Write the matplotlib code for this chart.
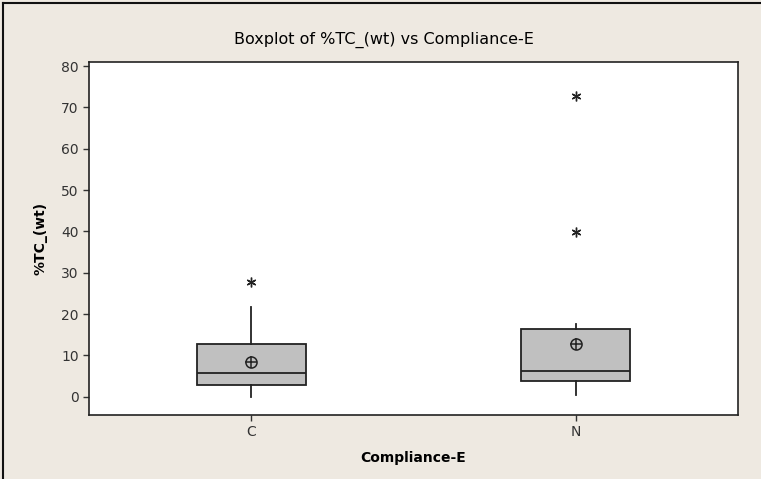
import matplotlib
matplotlib.use("Agg")
import matplotlib.pyplot as plt
from matplotlib.lines import Line2D

categories = ["C", "N"]
q1 = [2.9, 3.9]
median = [5.8, 6.3]
q3 = [12.8, 16.4]
whislo = [0.0, 0.5]
whishi = [21.7, 17.6]
means = [8.5, 12.8]
outliers = [[27.8], [39.9, 72.7]]
yticks = [0, 10, 20, 30, 40, 50, 60, 70, 80]

bg = "#EEE9E1"
fig = plt.figure(figsize=(7.61, 4.79), dpi=100, facecolor=bg)
ax = fig.add_axes([89/761, 1-415/479, (738-89)/761, (415-62)/479])
ax.set_facecolor("white")

stats = []
for i, c in enumerate(categories):
    stats.append(dict(label=c, q1=q1[i], med=median[i], q3=q3[i],
                      whislo=whislo[i], whishi=whishi[i], fliers=[]))
ax.bxp(stats, positions=[1, 2], widths=0.335, patch_artist=True, showcaps=False,
       boxprops=dict(facecolor="#C0C0C0", edgecolor="#222222", linewidth=1.3),
       medianprops=dict(color="#222222", linewidth=1.3),
       whiskerprops=dict(color="#222222", linewidth=1.3))

for i in range(len(categories)):
    x = i + 1
    ax.plot([x], [means[i]], marker="o", markersize=8, markerfacecolor="none",
            markeredgecolor="#222222", markeredgewidth=1.1, linestyle="none")
    ax.plot([x], [means[i]], marker="+", markersize=8, color="#222222",
            markeredgewidth=1.1, linestyle="none")
    ax.plot([x] * len(outliers[i]), outliers[i], marker=(6, 2, 0), markersize=7,
            color="#222222", markeredgewidth=1.0, linestyle="none")

ax.set_xlim(0.5, 2.5)
ax.set_ylim(-4.4, 81)
ax.set_yticks(yticks)
ax.set_xticks([1, 2])
ax.set_xticklabels(categories)
ax.tick_params(axis="both", direction="out", length=4, width=1, colors="#333333",
               labelsize=10)
for s in ax.spines.values():
    s.set_linewidth(1.2)
    s.set_color("#222222")

ax.set_xlabel("Compliance-E", fontsize=10, fontweight="bold", labelpad=8)
ax.set_ylabel("%TC_(wt)", fontsize=10, fontweight="bold", labelpad=10)
fig.text(384/761, 1-40/479, "Boxplot of %TC_(wt) vs Compliance-E", ha="center",
         va="center", fontsize=11.5)

fig.add_artist(Line2D([3/761, 3/761], [0, 1-3/479], transform=fig.transFigure,
                      color="#111111", linewidth=1.5))
fig.add_artist(Line2D([3/761, 1], [1-3/479, 1-3/479], transform=fig.transFigure,
                      color="#111111", linewidth=1.5))

fig.savefig("out.png", dpi=100, facecolor=bg)
